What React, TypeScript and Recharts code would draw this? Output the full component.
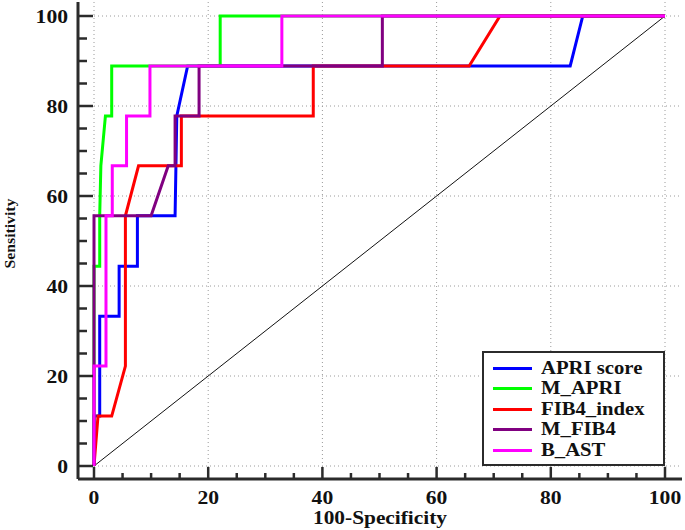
import React from 'react';
import { LineChart, Line, XAxis, YAxis, ReferenceLine } from 'recharts';

// ROC curves: 100-Specificity (x) vs Sensitivity (y)
const seriesNames = ['APRI score', 'M_APRI', 'FIB4_index', 'M_FIB4', 'B_AST'];
const seriesColors = ['#0000ff', '#00ff00', '#ff0000', '#800080', '#ff00ff'];

const apriFpr = [0, 0, 1, 1, 4.4, 4.4, 7.6, 7.6, 14.2, 14.5, 16.4, 83.4, 85.6, 100];
const apriSens = [0, 11.1, 11.1, 33.3, 33.3, 44.4, 44.4, 55.6, 55.6, 77.8, 88.9, 88.9, 100, 100];

const mApriFpr = [0, 0, 1, 1, 1.2, 2, 3.1, 3.1, 22.1, 22.1, 100];
const mApriSens = [0, 44.4, 44.4, 55.6, 66.7, 77.8, 77.8, 88.9, 88.9, 100, 100];

const fib4Fpr = [0, 0.7, 3.1, 5.5, 5.5, 7.8, 15.3, 15.3, 38.4, 38.4, 65.7, 71.1, 100];
const fib4Sens = [0, 11.1, 11.1, 22.2, 55.6, 66.7, 66.7, 77.8, 77.8, 88.9, 88.9, 100, 100];

const mFib4Fpr = [0, 0, 10, 13, 14.2, 14.2, 18.4, 18.4, 50.5, 50.5, 100];
const mFib4Sens = [0, 55.6, 55.6, 66.7, 66.7, 77.8, 77.8, 88.9, 88.9, 100, 100];

const bAstFpr = [0, 0, 2.1, 2.1, 3.2, 3.2, 5.7, 5.7, 9.8, 9.8, 32.9, 32.9, 100];
const bAstSens = [0, 22.2, 22.2, 55.6, 55.6, 66.7, 66.7, 77.8, 77.8, 88.9, 88.9, 100, 100];

const diagFpr = [0, 100];
const diagSens = [0, 100];

const tickValues = [0, 5, 10, 15, 20, 25, 30, 35, 40, 45, 50, 55, 60, 65, 70, 75, 80, 85, 90, 95, 100];
const gridValues = [0, 20, 40, 60, 80, 100];

const zip = (xs: number[], ys: number[]) => xs.map((x, i) => ({ x, y: ys[i] }));

const allSeries = [
    zip(apriFpr, apriSens),
    zip(mApriFpr, mApriSens),
    zip(fib4Fpr, fib4Sens),
    zip(mFib4Fpr, mFib4Sens),
    zip(bAstFpr, bAstSens),
];

const FONT = "'Liberation Serif', 'Times New Roman', serif";
const AXIS_COLOR = '#2b2b2b';
const DIGIT_W = 10.8; // the source image is stretched a bit horizontally

const XTick = ({ x, y, payload }: any) => {
    const major = payload.value % 20 === 0;
    const label = String(payload.value);
    return (
        <g>
            <line x1={x} x2={x} y1={y} y2={y - (major ? 12 : 6)} stroke={AXIS_COLOR} strokeWidth={2.5} />
            {major && (
                <text
                    x={x}
                    y={y + 25}
                    textAnchor="middle"
                    fontFamily={FONT}
                    fontWeight="bold"
                    fontSize={19}
                    fill="#111"
                    textLength={label.length * DIGIT_W}
                    lengthAdjust="spacingAndGlyphs"
                >
                    {label}
                </text>
            )}
        </g>
    );
};

const YTick = ({ x, y, payload }: any) => {
    const major = payload.value % 20 === 0;
    const label = String(payload.value);
    return (
        <g>
            <line x1={x} x2={x + (major ? 15 : 9)} y1={y} y2={y} stroke={AXIS_COLOR} strokeWidth={2.5} />
            {major && (
                <text
                    x={x - 10}
                    y={y}
                    dy="0.35em"
                    textAnchor="end"
                    fontFamily={FONT}
                    fontWeight="bold"
                    fontSize={19}
                    fill="#111"
                    textLength={label.length * DIGIT_W}
                    lengthAdjust="spacingAndGlyphs"
                >
                    {label}
                </text>
            )}
        </g>
    );
};

const XTitle = ({ viewBox }: any) => (
    <text
        x={viewBox.x + viewBox.width / 2}
        y={viewBox.y + viewBox.height - 6}
        textAnchor="middle"
        fontFamily={FONT}
        fontWeight="bold"
        fontSize={18}
        fill="#111"
        textLength={134}
        lengthAdjust="spacingAndGlyphs"
    >
        100-Specificity
    </text>
);

const YTitle = ({ viewBox }: any) => {
    const cx = viewBox.x + 15;
    const cy = viewBox.y + viewBox.height / 2 - 7;
    return (
        <text
            x={cx}
            y={cy}
            transform={`rotate(-90, ${cx}, ${cy})`}
            textAnchor="middle"
            fontFamily={FONT}
            fontWeight="bold"
            fontSize={15}
            fill="#111"
            textLength={70}
            lengthAdjust="spacingAndGlyphs"
        >
            Sensitivity
        </text>
    );
};

export default function App() {
    return (
        <div style={{ position: 'relative', width: 685, height: 530, background: '#fff' }}>
            <style>{'body{margin:0;}'}</style>
            <LineChart width={685} height={530} margin={{ top: 2, right: 3, bottom: 0, left: 0 }}>
                <XAxis
                    dataKey="x"
                    type="number"
                    domain={[0, 100]}
                    ticks={tickValues}
                    interval={0}
                    padding={{ left: 16, right: 17 }}
                    height={51}
                    tickSize={0}
                    tickMargin={0}
                    tickLine={false}
                    axisLine={{ stroke: AXIS_COLOR, strokeWidth: 3 }}
                    tick={(p: any) => <XTick {...p} />}
                    label={(p: any) => <XTitle {...p} />}
                />
                <YAxis
                    dataKey="y"
                    type="number"
                    domain={[0, 100]}
                    ticks={tickValues}
                    interval={0}
                    padding={{ top: 14, bottom: 13 }}
                    width={78}
                    tickSize={0}
                    tickMargin={0}
                    tickLine={false}
                    axisLine={{ stroke: AXIS_COLOR, strokeWidth: 3 }}
                    tick={(p: any) => <YTick {...p} />}
                    label={(p: any) => <YTitle {...p} />}
                />
                {gridValues.map((v) => (
                    <ReferenceLine key={`gx-${v}`} x={v} stroke="#9a9a9a" strokeDasharray="1 3" ifOverflow="extendDomain" />
                ))}
                {gridValues.map((v) => (
                    <ReferenceLine key={`gy-${v}`} y={v} stroke="#9a9a9a" strokeDasharray="1 3" ifOverflow="extendDomain" />
                ))}
                <Line
                    data={zip(diagFpr, diagSens)}
                    dataKey="y"
                    type="linear"
                    stroke="#111"
                    strokeWidth={1}
                    dot={false}
                    isAnimationActive={false}
                />
                {allSeries.map((d, i) => (
                    <Line
                        key={seriesNames[i]}
                        name={seriesNames[i]}
                        data={d}
                        dataKey="y"
                        type="linear"
                        stroke={seriesColors[i]}
                        strokeWidth={3}
                        dot={false}
                        isAnimationActive={false}
                    />
                ))}
            </LineChart>

            {/* Legend */}
            <div
                style={{
                    position: 'absolute',
                    left: 482,
                    top: 351,
                    width: 183,
                    height: 115,
                    border: `2.5px solid ${AXIS_COLOR}`,
                    background: '#fff',
                    boxSizing: 'border-box',
                    paddingTop: 5,
                }}
            >
                {seriesNames.map((name, i) => (
                    <div key={name} style={{ display: 'flex', alignItems: 'center', height: 20.5, marginLeft: 9 }}>
                        <div style={{ width: 39, height: 3, background: seriesColors[i], flexShrink: 0 }} />
                        <span
                            style={{
                                marginLeft: 9,
                                fontFamily: FONT,
                                fontWeight: 'bold',
                                fontSize: 18,
                                color: '#111',
                                whiteSpace: 'nowrap',
                                display: 'inline-block',
                                transform: 'scaleX(1.15)',
                                transformOrigin: 'left center',
                            }}
                        >
                            {name}
                        </span>
                    </div>
                ))}
            </div>
        </div>
    );
}
